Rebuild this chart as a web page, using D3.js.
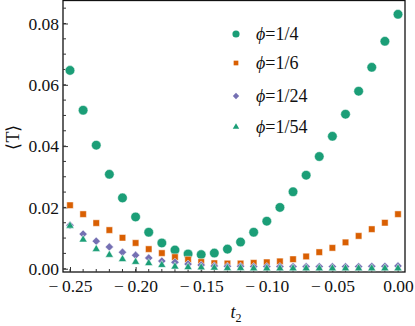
<!DOCTYPE html>
<meta charset="utf-8">
<style>
body { margin: 0; background: #fff; }
text { font-family: "Liberation Serif", "Times New Roman", serif; fill: #111; }
.axis text { font-size: 17.5px; font-family: "Liberation Serif", serif; fill: #111; }
.axis line { stroke: #333; }
</style>
<body>
<script src="https://d3js.org/d3.v7.min.js"></script>
<script>
// t2 values, -0.25 .. 0.00 step 0.01
var t2 = [-0.25, -0.24, -0.23, -0.22, -0.21, -0.20, -0.19, -0.18, -0.17, -0.16,
          -0.15, -0.14, -0.13, -0.12, -0.11, -0.10, -0.09, -0.08, -0.07, -0.06,
          -0.05, -0.04, -0.03, -0.02, -0.01, 0.00];

var phi4 = [0.0647, 0.0517, 0.0403, 0.0308, 0.0231, 0.0169, 0.0119, 0.0084, 0.0061, 0.0048,
            0.0046, 0.0051, 0.0064, 0.0087, 0.0119, 0.0155, 0.0200, 0.0251, 0.0305, 0.0366,
            0.0432, 0.0504, 0.0579, 0.0657, 0.0742, 0.0830];
var phi6 = [0.0207, 0.0178, 0.0149, 0.0126, 0.0101, 0.0084, 0.0064, 0.0051, 0.0038, 0.0030,
            0.0022, 0.0018, 0.0017, 0.0017, 0.0019, 0.0021, 0.0024, 0.0031, 0.0040, 0.0054,
            0.0068, 0.0086, 0.0107, 0.0129, 0.0150, 0.0178];
var phi24 = [0.0142, 0.0113, 0.0090, 0.0071, 0.0054, 0.0044, 0.0035, 0.0025, 0.0021, 0.0015,
             0.0012, 0.0009, 0.0008, 0.0008, 0.0007, 0.0007, 0.0007, 0.0007, 0.0007, 0.0007,
             0.0007, 0.0007, 0.0007, 0.0008, 0.0008, 0.0009];
var phi54 = [0.0140, 0.0095, 0.0064, 0.0045, 0.0031, 0.0022, 0.0018, 0.0012, 0.0007, 0.0005,
             0.0004, 0.0003, 0.0002, 0.0002, 0.0001, 0.0001, 0.0001, 0.0001, 0.0001, 0.0001,
             0.0001, 0.0001, 0.0001, 0.0001, 0.0001, 0.0001];

var seriesNames = ["1/4", "1/6", "1/24", "1/54"];
var seriesColors = ["#1b9e77", "#d95f02", "#7570b3", "#1b9e77"];
var seriesShapes = [d3.symbolCircle, d3.symbolSquare, d3.symbolSquare, d3.symbolTriangle];
var seriesRotate = [0, 0, 45, 0];
var seriesSizes = [72, 42, 34, 28];
var legendSizes = [40, 22, 20, 18];
var seriesData = [phi4, phi6, phi24, phi54];

var xTicks = [-0.25, -0.20, -0.15, -0.10, -0.05, 0.00];
var yTicks = [0.00, 0.02, 0.04, 0.06, 0.08];

var W = 415, H = 326;
var plotL = 63, plotR = 405, plotT = 0.5, plotB = 272;

var x = d3.scaleLinear().domain([-0.25534, 0.00534]).range([plotL, plotR]);
var y = d3.scaleLinear().domain([-0.00107, 0.0875]).range([plotB, plotT]);

var svg = d3.select("body").append("svg")
    .attr("width", W).attr("height", H);

// frame
svg.append("rect")
    .attr("x", plotL).attr("y", plotT)
    .attr("width", plotR - plotL).attr("height", plotB - plotT)
    .attr("fill", "none").attr("stroke", "#111").attr("stroke-width", 1.3);

// minor ticks
var xMinor = d3.range(-0.25, 0.0001, 0.01);
svg.append("g").selectAll("line").data(xMinor).enter().append("line")
    .attr("x1", function(d) { return x(d); }).attr("x2", function(d) { return x(d); })
    .attr("y1", plotB).attr("y2", plotB - 3)
    .attr("stroke", "#333");
var yMinor = d3.range(0, 0.0875, 0.005);
svg.append("g").selectAll("line").data(yMinor).enter().append("line")
    .attr("y1", function(d) { return y(d); }).attr("y2", function(d) { return y(d); })
    .attr("x1", plotL).attr("x2", plotL + 3)
    .attr("stroke", "#333");

// axes
var xAxis = svg.append("g").attr("class", "axis")
    .attr("transform", "translate(0," + plotB + ")")
    .call(d3.axisBottom(x).tickValues(xTicks).tickSizeInner(-5).tickSizeOuter(0)
        .tickPadding(8)
        .tickFormat(function(d) { return d === 0 ? "0.00" : "\u2212\u2009" + d3.format(".2f")(-d); }));
xAxis.select(".domain").remove();

var yAxis = svg.append("g").attr("class", "axis")
    .attr("transform", "translate(" + plotL + ",0)")
    .call(d3.axisLeft(y).tickValues(yTicks).tickSizeInner(-5).tickSizeOuter(0)
        .tickPadding(4)
        .tickFormat(d3.format(".2f")));
yAxis.select(".domain").remove();

// axis labels
svg.append("text")
    .attr("transform", "translate(19,137) rotate(-90)")
    .attr("text-anchor", "middle")
    .style("font-size", "18px")
    .text("\u27E8T\u27E9");

var xl = svg.append("text")
    .attr("x", 236).attr("y", 318)
    .attr("text-anchor", "middle")
    .style("font-size", "18px");
xl.append("tspan").style("font-style", "italic").text("t");
xl.append("tspan").attr("dy", 4).style("font-size", "12px").text("2");

// points
seriesData.forEach(function(vals, k) {
    svg.append("g").selectAll("path").data(vals).enter().append("path")
        .attr("d", d3.symbol().type(seriesShapes[k]).size(seriesSizes[k]))
        .attr("transform", function(d, i) {
            return "translate(" + x(t2[i]) + "," + y(d) + ") rotate(" + seriesRotate[k] + ")";
        })
        .attr("fill", seriesColors[k])
        .attr("stroke", "rgba(255,255,255,0.6)")
        .attr("stroke-width", 0.8);
});

// legend
var legendY = [34, 63, 96, 127];
seriesNames.forEach(function(name, k) {
    svg.append("path")
        .attr("d", d3.symbol().type(seriesShapes[k]).size(legendSizes[k]))
        .attr("transform", "translate(236," + legendY[k] + ") rotate(" + seriesRotate[k] + ")")
        .attr("fill", seriesColors[k]);
    var t = svg.append("text")
        .attr("x", 256).attr("y", legendY[k] + 6)
        .style("font-size", "18px");
    t.append("tspan").style("font-style", "italic").text("\u03D5");
    t.append("tspan").text("=" + name);
});
</script>
</body>
